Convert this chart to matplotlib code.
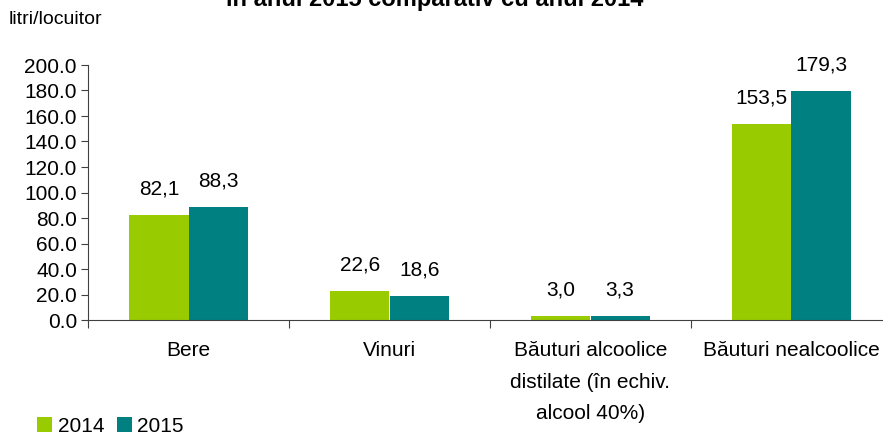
import numpy as np
import matplotlib.pyplot as plt

plt.rcParams['font.family'] = ['Liberation Sans', 'DejaVu Sans']

categories = ["Bere", "Vinuri", "Băuturi alcoolice\ndistilate (în echiv.\nalcool 40%)", "Băuturi nealcoolice"]
values_2014 = [82.1, 22.6, 3.0, 153.5]
values_2015 = [88.3, 18.6, 3.3, 179.3]
series_names = ["2014", "2015"]
yticks = [0, 20, 40, 60, 80, 100, 120, 140, 160, 180, 200]

green = "#99cc00"
teal = "#008080"
fs = 15

fig = plt.figure(figsize=(8.83, 4.36), dpi=100)
# axis runs past the right edge, like in the original
ax = fig.add_axes([88 / 883, 1 - 320 / 436, 804 / 883, 255 / 436])

x = np.arange(len(categories))
w = 0.295
b1 = ax.bar(x - w / 2, values_2014, w, color=green, label=series_names[0])
b2 = ax.bar(x + w / 2, values_2015, w, color=teal, label=series_names[1])

for bars, vals in [(b1, values_2014), (b2, values_2015)]:
    for rect, v in zip(bars, vals):
        ax.annotate(f"{v:.1f}".replace(".", ","),
                    (rect.get_x() + rect.get_width() / 2, rect.get_height()),
                    xytext=(0, 12), textcoords="offset points",
                    ha="center", va="bottom", fontsize=fs)

ax.set_xlim(-0.5, len(categories) - 0.5)
ax.set_ylim(0, 200)
ax.set_yticks(yticks)
ax.set_yticklabels([f"{t:.1f}" for t in yticks], fontsize=fs)

ax.set_xticks(np.arange(len(categories) + 1) - 0.5)
ax.set_xticklabels([])
ax.set_xticks(x, minor=True)
ax.set_xticklabels(categories, minor=True, fontsize=fs, linespacing=1.85, va="top")
ax.tick_params(axis="x", which="minor", length=0, pad=15)
ax.tick_params(axis="x", which="major", length=6, direction="out", color="#404040")
ax.tick_params(axis="y", length=5, direction="out", color="#404040", pad=3)

for s in ["top", "right"]:
    ax.spines[s].set_visible(False)
ax.spines["left"].set_color("#404040")
ax.spines["bottom"].set_color("#404040")

fig.text(9 / 883, 1 - 20 / 436, "litri/locuitor", fontsize=14, va="center", ha="left")
# title sits mostly above the top edge, as in the source image
fig.text(435 / 883, 1 - 6 / 436, "în anul 2015 comparativ cu anul 2014",
         fontsize=17, fontweight="bold", ha="center", va="baseline")

fig.legend(loc="lower left", bbox_to_anchor=(18 / 883, -0.042), ncol=2, frameon=False,
           fontsize=fs, handlelength=0.75, handleheight=0.75, handletextpad=0.25,
           columnspacing=0.6)

fig.savefig("out.png", dpi=100)
